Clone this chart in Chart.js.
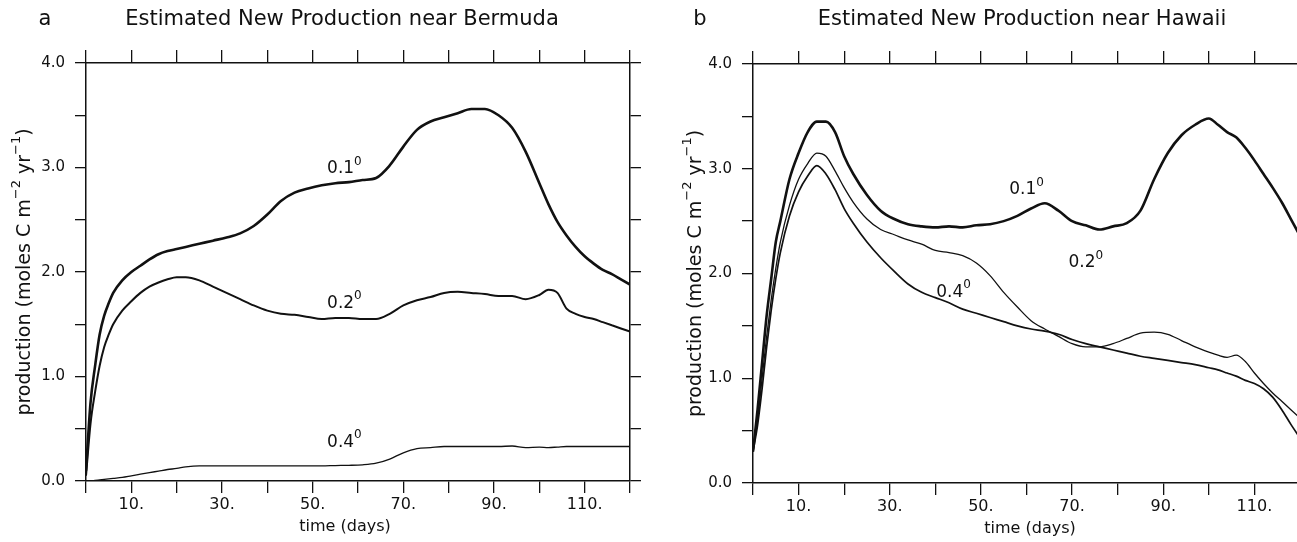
<!DOCTYPE html>
<html>
<head>
<meta charset="utf-8">
<script src="https://cdn.jsdelivr.net/npm/chart.js@4"></script>
<style>
  html, body { margin: 0; padding: 0; background: #fff; overflow: hidden; }
  body { width: 1297px; height: 542px; position: relative; }
  .panel { position: absolute; top: 0; height: 542px; }
  #panelA { left: 0; width: 648px; }
  #panelB { left: 648px; width: 680px; }
</style>
</head>
<body>
<div class="panel" id="panelA"><canvas id="chartA"></canvas></div>
<div class="panel" id="panelB"><canvas id="chartB"></canvas></div>
<script>
// time axis (days) shared by all series
const days = [0, 1, 2, 3, 4, 5, 6, 8, 10, 12, 14, 16, 18, 20, 22, 25, 28, 31, 34, 37, 40, 43, 46, 49, 52, 55, 58, 61, 64, 67, 70, 73, 76, 79, 82, 85, 88, 91, 94, 97, 100, 102, 104, 106, 108, 110, 112, 114, 116, 118, 120]

// Bermuda (panel a)
const bermuda01 = [0.1, 0.75, 1.1, 1.4, 1.58, 1.7, 1.8, 1.92, 2.0, 2.06, 2.12, 2.17, 2.2, 2.22, 2.24, 2.27, 2.3, 2.33, 2.37, 2.44, 2.55, 2.68, 2.76, 2.8, 2.83, 2.85, 2.86, 2.88, 2.9, 3.02, 3.2, 3.36, 3.44, 3.48, 3.52, 3.56, 3.56, 3.5, 3.38, 3.15, 2.85, 2.65, 2.48, 2.35, 2.24, 2.15, 2.08, 2.02, 1.98, 1.93, 1.88]
const bermuda02 = [0.05, 0.55, 0.85, 1.1, 1.28, 1.4, 1.5, 1.63, 1.72, 1.8, 1.86, 1.9, 1.93, 1.95, 1.95, 1.92, 1.86, 1.8, 1.74, 1.68, 1.63, 1.6, 1.59, 1.57, 1.55, 1.56, 1.56, 1.55, 1.55, 1.6, 1.68, 1.73, 1.76, 1.8, 1.81, 1.8, 1.79, 1.77, 1.77, 1.74, 1.78, 1.83, 1.8, 1.65, 1.6, 1.57, 1.55, 1.52, 1.49, 1.46, 1.43]
const bermuda04 = [0, 0, 0.005, 0.01, 0.015, 0.02, 0.025, 0.035, 0.05, 0.065, 0.08, 0.095, 0.11, 0.12, 0.135, 0.145, 0.145, 0.145, 0.145, 0.145, 0.145, 0.145, 0.145, 0.145, 0.145, 0.148, 0.15, 0.155, 0.17, 0.21, 0.27, 0.31, 0.32, 0.33, 0.33, 0.33, 0.33, 0.33, 0.335, 0.32, 0.325, 0.32, 0.325, 0.33, 0.33, 0.33, 0.33, 0.33, 0.33, 0.33, 0.33]

// Hawaii (panel b)
const hawaii01 = [0.3, 0.7, 1.15, 1.6, 1.95, 2.3, 2.5, 2.9, 3.15, 3.35, 3.45, 3.45, 3.35, 3.12, 2.95, 2.75, 2.6, 2.52, 2.47, 2.45, 2.44, 2.45, 2.44, 2.46, 2.47, 2.5, 2.55, 2.62, 2.67, 2.6, 2.5, 2.46, 2.42, 2.45, 2.48, 2.6, 2.9, 3.15, 3.32, 3.42, 3.48, 3.42, 3.35, 3.3, 3.2, 3.08, 2.95, 2.82, 2.68, 2.52, 2.36]
const hawaii02 = [0.3, 0.6, 1.0, 1.4, 1.75, 2.05, 2.3, 2.65, 2.9, 3.05, 3.15, 3.12, 2.98, 2.82, 2.68, 2.52, 2.42, 2.37, 2.32, 2.28, 2.22, 2.2, 2.17, 2.1, 1.98, 1.82, 1.68, 1.55, 1.47, 1.4, 1.33, 1.3, 1.3, 1.33, 1.38, 1.43, 1.44, 1.42, 1.36, 1.3, 1.25, 1.22, 1.2, 1.22, 1.16, 1.05, 0.95, 0.86, 0.78, 0.7, 0.62]
const hawaii04 = [0.3, 0.55, 0.9, 1.3, 1.65, 1.95, 2.2, 2.55, 2.78, 2.93, 3.03, 2.95, 2.8, 2.62, 2.48, 2.3, 2.15, 2.02, 1.9, 1.82, 1.77, 1.72, 1.66, 1.62, 1.58, 1.54, 1.5, 1.47, 1.45, 1.42, 1.37, 1.33, 1.3, 1.27, 1.24, 1.21, 1.19, 1.17, 1.15, 1.13, 1.1, 1.08, 1.05, 1.02, 0.98, 0.95, 0.9, 0.82, 0.7, 0.56, 0.43]

const xLabelDays = [10, 30, 50, 70, 90, 110]
const yLabelValues = [0, 1, 2, 3, 4]

const fontFam = '"DejaVu Sans", sans-serif'
const ink = '#111'

function pts(vals) {
    return days.map((d, i) => ({ x: d, y: vals[i] }))
}

// draws a run of [text, isSuperscript] pieces centred on x
function drawParts(c, parts, x, y, size) {
    const sup = Math.round(size * 0.7)
    let w = 0
    parts.forEach(p => {
        c.font = (p[1] ? sup : size) + 'px ' + fontFam
        w += c.measureText(p[0]).width
    })
    let cx = x - w / 2
    c.textAlign = 'left'
    parts.forEach(p => {
        c.font = (p[1] ? sup : size) + 'px ' + fontFam
        c.fillText(p[0], cx, p[1] ? y - size * 0.42 : y)
        cx += c.measureText(p[0]).width
    })
}

// titles, axis names and the small curve labels
const textPlugin = {
    id: 'texts',
    afterDraw(chart) {
        const c = chart.ctx
        const t = chart.options.plugins.texts
        const xs = chart.scales.x
        const ys = chart.scales.y
        c.save()
        c.fillStyle = ink
        c.textBaseline = 'middle'
        c.textAlign = 'center'
        c.font = '21px ' + fontFam
        c.fillText(t.letter, t.letterX, 20)
        c.fillText(t.title, t.titleX, 20)
        c.font = '16px ' + fontFam
        c.fillText('time (days)', t.xTitleX, t.xTitleY)
        c.save()
        c.translate(t.yTitleX, (chart.chartArea.top + chart.chartArea.bottom) / 2)
        c.rotate(-Math.PI / 2)
        drawParts(c, [['production (moles C m', 0], ['\u22122', 1], [' yr', 0], ['\u22121', 1], [')', 0]], 0, 0, 19)
        c.restore()
        t.notes.forEach(n => {
            drawParts(c, [[n.text, 0], ['0', 1]], xs.getPixelForValue(n.x), ys.getPixelForValue(n.y), 17)
        })
        c.restore()
    }
}

function axisGrid(len) {
    return { drawOnChartArea: false, drawTicks: true, tickLength: len, color: ink, lineWidth: 1.3 }
}

function makeChart(id, series, widths, cfg) {
    const ctx = document.getElementById(id).getContext('2d')
    return new Chart(ctx, {
        type: 'line',
        data: {
            datasets: series.map((s, i) => ({
                data: pts(s),
                borderColor: ink,
                borderWidth: widths[i],
                pointRadius: 0,
                cubicInterpolationMode: 'monotone',
                fill: false
            }))
        },
        options: {
            responsive: false,
            animation: false,
            layout: { padding: { top: cfg.padTop, left: 0, right: 0, bottom: 0 } },
            plugins: {
                legend: { display: false },
                tooltip: { enabled: false },
                texts: cfg.texts
            },
            scales: {
                x: {
                    type: 'linear', position: 'bottom', min: 0, max: 120,
                    afterFit: s => { s.height = cfg.bottomH },
                    grid: axisGrid(12),
                    border: { display: true, color: ink, width: 1.5 },
                    ticks: {
                        stepSize: 10, autoSkip: false, maxRotation: 0, padding: 2, color: ink,
                        font: { family: fontFam, size: 16 },
                        callback: v => xLabelDays.includes(v) ? v + '.' : ''
                    }
                },
                x2: {
                    type: 'linear', position: 'top', min: 0, max: 120,
                    afterFit: s => { s.height = 13 },
                    grid: axisGrid(13),
                    border: { display: true, color: ink, width: 1.5 },
                    ticks: { stepSize: 10, autoSkip: false, callback: () => '' }
                },
                y: {
                    type: 'linear', position: 'left', min: 0, max: 4,
                    afterFit: s => { s.width = cfg.leftW },
                    grid: axisGrid(11),
                    border: { display: true, color: ink, width: 1.5 },
                    ticks: {
                        stepSize: 0.5, autoSkip: false, padding: 10, color: ink,
                        font: { family: fontFam, size: 15 },
                        callback: v => yLabelValues.includes(v) ? v.toFixed(1) : ''
                    }
                },
                y2: {
                    type: 'linear', position: 'right', min: 0, max: 4,
                    afterFit: s => { s.width = cfg.rightW },
                    grid: axisGrid(11),
                    border: { display: true, color: ink, width: 1.5 },
                    ticks: { stepSize: 0.5, autoSkip: false, callback: () => '' }
                }
            }
        },
        plugins: [textPlugin]
    })
}

document.getElementById('chartA').width = 648
document.getElementById('chartA').height = 542
document.getElementById('chartB').width = 680
document.getElementById('chartB').height = 542

makeChart('chartA', [bermuda01, bermuda02, bermuda04], [2.6, 2, 1.3], {
    padTop: 50, bottomH: 61, leftW: 86, rightW: 18,
    texts: {
        letter: 'a', letterX: 45, title: 'Estimated New Production near Bermuda', titleX: 342,
        xTitleX: 345, xTitleY: 527, yTitleX: 25,
        notes: [
            { text: '0.1', x: 57, y: 2.99 },
            { text: '0.2', x: 57, y: 1.7 },
            { text: '0.4', x: 57, y: 0.37 }
        ]
    }
})

makeChart('chartB', [hawaii01, hawaii02, hawaii04], [2.6, 1.3, 1.7], {
    padTop: 51, bottomH: 59, leftW: 105, rightW: 28,
    texts: {
        letter: 'b', letterX: 52, title: 'Estimated New Production near Hawaii', titleX: 374,
        xTitleX: 382, xTitleY: 529, yTitleX: 48,
        notes: [
            { text: '0.1', x: 60, y: 2.8 },
            { text: '0.2', x: 73, y: 2.1 },
            { text: '0.4', x: 44, y: 1.82 }
        ]
    }
})
</script>
</body>
</html>
